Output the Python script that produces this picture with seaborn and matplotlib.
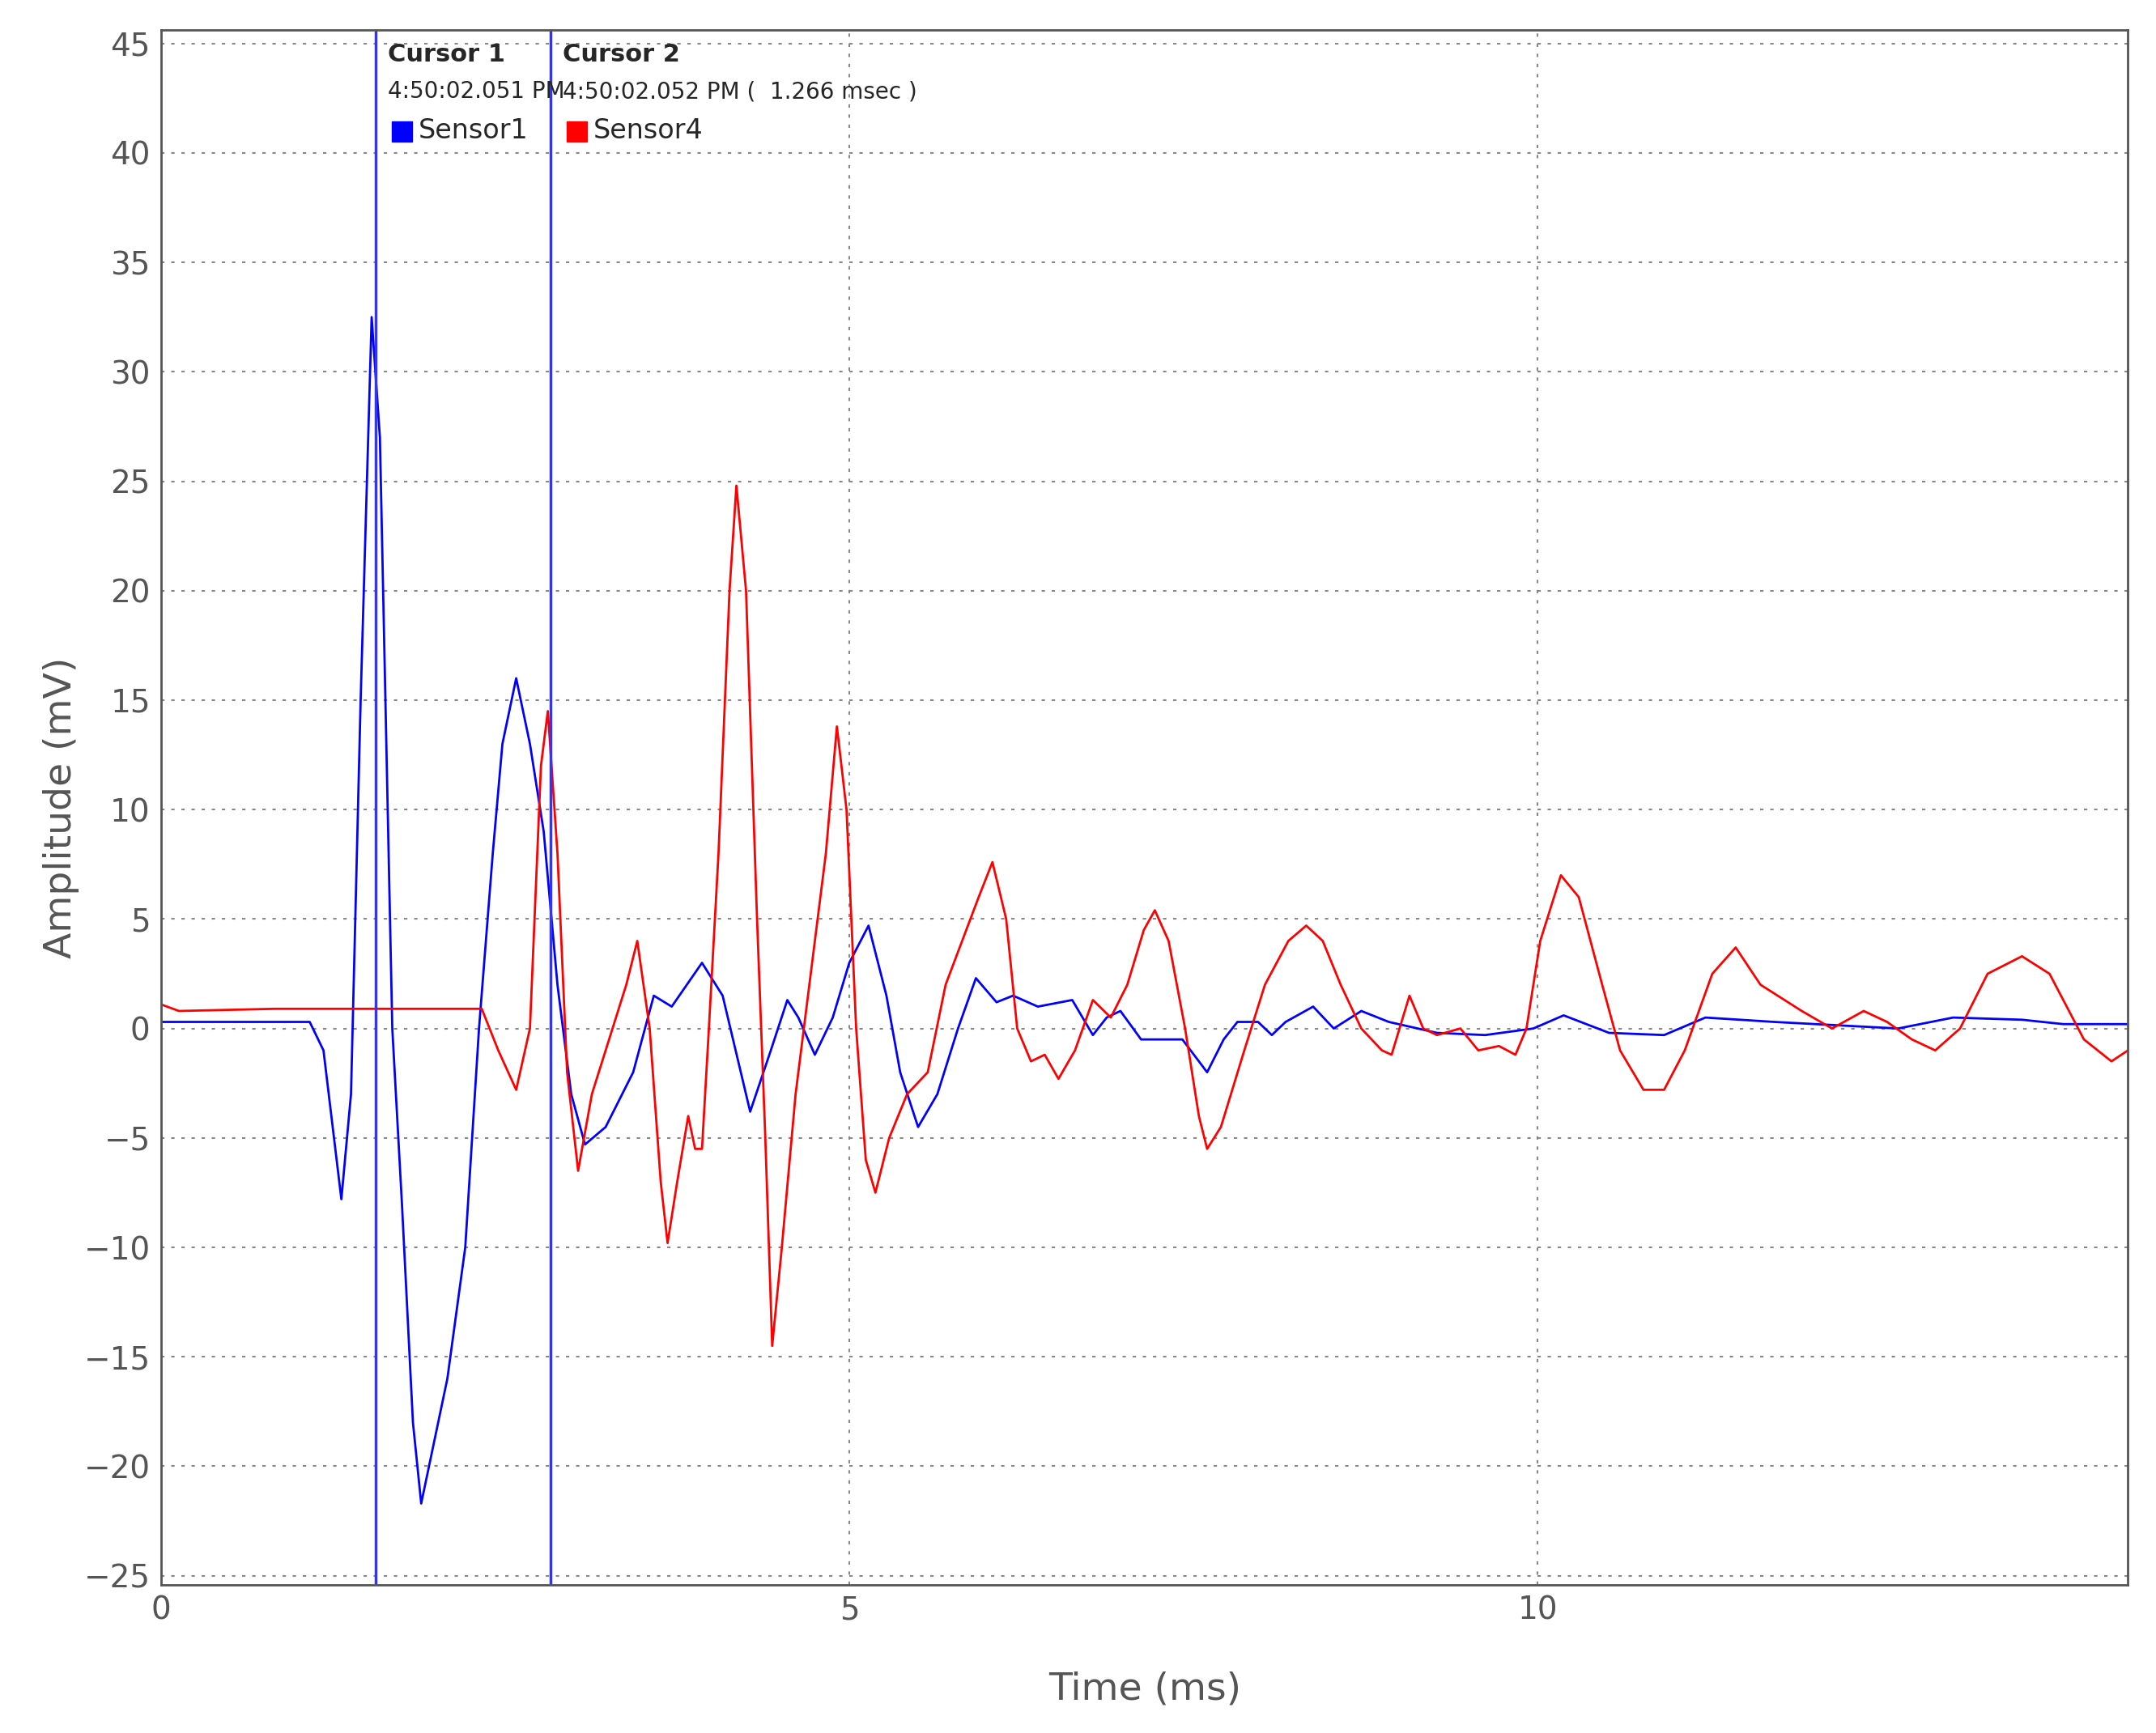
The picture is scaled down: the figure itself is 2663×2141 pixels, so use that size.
import matplotlib
matplotlib.use("Agg")
import matplotlib.pyplot as plt
import seaborn as sns
import pandas as pd

sensor1_t = [0,1.08,1.18,1.31,1.38,1.45,1.53,1.59,1.68,1.75,1.83,1.89,1.98,2.08,2.21,2.31,2.41,2.48,2.58,2.68,2.78,2.88,2.98,3.08,3.23,3.43,3.58,3.71,3.93,4.08,4.28,4.43,4.55,4.63,4.75,4.88,5.0,5.14,5.27,5.37,5.5,5.64,5.79,5.92,6.07,6.19,6.37,6.62,6.77,6.87,6.97,7.12,7.42,7.6,7.72,7.82,7.97,8.07,8.17,8.37,8.52,8.72,8.92,9.27,9.62,9.97,10.19,10.52,10.92,11.22,11.72,12.62,13.02,13.52,13.82,14.29]
sensor1_v = [0.3,0.3,-1,-7.8,-3,15,32.5,27,0,-8,-18,-21.7,-19,-16,-10,0,8,13,16,13,9,2,-3,-5.3,-4.5,-2,1.5,1,3,1.5,-3.8,-1,1.3,0.5,-1.2,0.5,3,4.7,1.5,-2,-4.5,-3,0,2.3,1.2,1.5,1,1.3,-0.3,0.5,0.8,-0.5,-0.5,-2,-0.5,0.3,0.3,-0.3,0.3,1,0,0.8,0.3,-0.2,-0.3,0,0.6,-0.2,-0.3,0.5,0.3,0,0.5,0.4,0.2,0.2]
sensor4_t = [0,0.13,0.83,2.33,2.45,2.58,2.68,2.76,2.81,2.88,2.95,3.03,3.13,3.28,3.38,3.46,3.55,3.63,3.68,3.75,3.83,3.88,3.93,3.98,4.05,4.13,4.18,4.25,4.33,4.39,4.44,4.51,4.61,4.73,4.83,4.91,4.98,5.05,5.12,5.19,5.29,5.42,5.57,5.70,5.82,5.94,6.04,6.14,6.22,6.32,6.42,6.52,6.64,6.77,6.90,7.02,7.14,7.22,7.32,7.44,7.54,7.6,7.70,7.87,8.02,8.19,8.32,8.44,8.57,8.72,8.87,8.94,9.07,9.17,9.27,9.44,9.57,9.72,9.84,9.92,10.02,10.17,10.30,10.47,10.60,10.77,10.92,11.07,11.27,11.44,11.62,11.92,12.14,12.37,12.54,12.72,12.89,13.07,13.27,13.52,13.72,13.97,14.17,14.29]
sensor4_v = [1.1,0.8,0.9,0.9,-1,-2.8,0,12,14.5,8,-2,-6.5,-3,0,2,4,0,-7,-9.8,-7,-4,-5.5,-5.5,0,8,20,24.8,20,5,-5,-14.5,-10,-3,3,8,13.8,10,0,-6,-7.5,-5,-3,-2,2,4,6,7.6,5,0,-1.5,-1.2,-2.3,-1,1.3,0.5,2,4.5,5.4,4,0,-4,-5.5,-4.5,-1,2,4,4.7,4,2,0,-1,-1.2,1.5,0,-0.3,0,-1,-0.8,-1.2,0,4,7,6,2,-1,-2.8,-2.8,-1,2.5,3.7,2,0.8,0,0.8,0.3,-0.5,-1,0,2.5,3.3,2.5,-0.5,-1.5,-1]
cursors = [1.56, 2.83]

df = pd.concat([
    pd.DataFrame({"t": sensor1_t, "v": sensor1_v, "s": "Sensor1"}),
    pd.DataFrame({"t": sensor4_t, "v": sensor4_v, "s": "Sensor4"}),
])

sns.set_style("white")
fig = plt.figure(figsize=(26.63, 21.41), dpi=100)
ax = fig.add_axes([0.0747, 0.0857, 0.9123, 0.8968])
sns.lineplot(data=df, x="t", y="v", hue="s", palette={"Sensor1": "#0000ff", "Sensor4": "#ff0000"},
             ax=ax, legend=False, linewidth=2, sort=False, estimator=None)
ax.set_xlim(0, 14.29)
ax.set_ylim(-25.4, 45.6)
ax.set_xticks([0, 5, 10])
ax.set_yticks(range(-25, 46, 5))
ax.grid(True, linestyle=(0, (2, 4)), color="#888888", linewidth=1.5)
for c in cursors:
    ax.axvline(c, color="#3333ff", linewidth=2.5)
for sp in ax.spines.values():
    sp.set_color("#555555"); sp.set_linewidth(2)
ax.tick_params(labelsize=28, colors="#555555", length=6)
ax.set_xlabel("Time (ms)", fontsize=34, color="#555555", labelpad=40)
ax.set_ylabel("Amplitude (mV)", fontsize=34, color="#555555")

ax.text(1.65, 44.5, "Cursor 1", fontsize=22, fontweight="bold", va="center")
ax.text(2.92, 44.5, "Cursor 2", fontsize=22, fontweight="bold", va="center")
ax.text(1.65, 42.8, "4:50:02.051 PM", fontsize=20, va="center")
ax.text(2.92, 42.8, "4:50:02.052 PM (  1.266 msec )", fontsize=20, va="center")
ax.plot([1.75], [41.0], "s", color="#0000ff", markersize=18)
ax.text(1.87, 41.0, "Sensor1", fontsize=24, va="center")
ax.plot([3.02], [41.0], "s", color="#ff0000", markersize=18)
ax.text(3.14, 41.0, "Sensor4", fontsize=24, va="center")
fig.savefig("out.png", dpi=100)
